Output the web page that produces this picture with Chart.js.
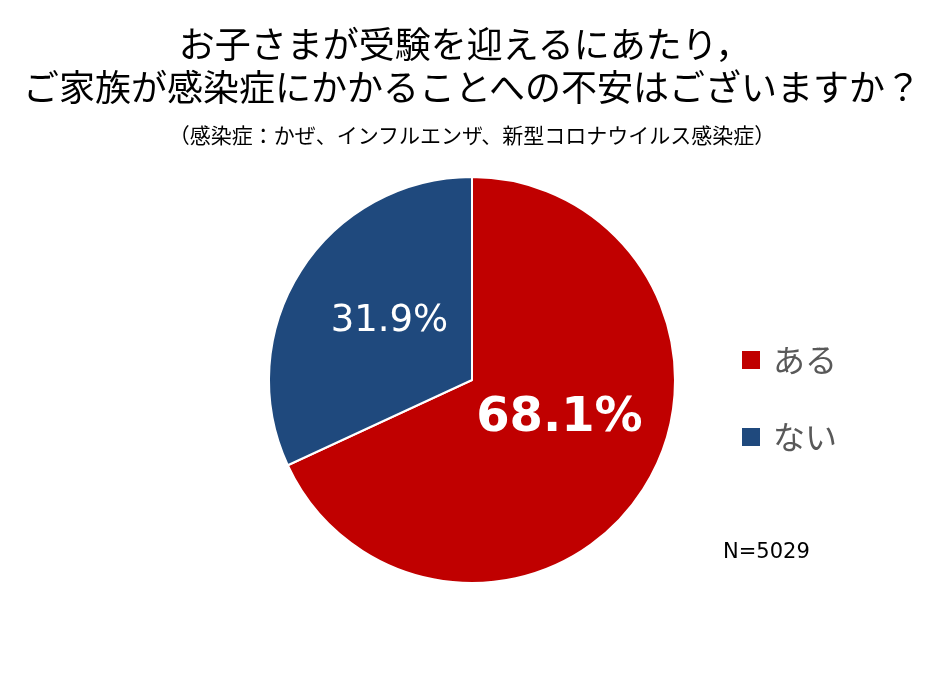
<!DOCTYPE html>
<html lang="ja">
<head>
<meta charset="utf-8">
<script src="https://cdn.jsdelivr.net/npm/chart.js@4/dist/chart.umd.min.js"></script>
<style>
  body { margin: 0; background: #fff; }
  .wrap { position: relative; width: 944px; height: 677px; font-family: "Noto Sans CJK JP", sans-serif; }
  .wrap canvas { position: absolute; left: 0; top: 0; }
  .title { position: absolute; left: 0; width: 944px; text-align: center; color: #000; white-space: nowrap; }
  .legend { position: absolute; left: 742px; font-size: 32px; color: #595959; line-height: 40px; }
  .legend span.box { display: inline-block; width: 18px; height: 18px; margin-right: 13px; vertical-align: middle; position: relative; top: -3px; }
  .nnote { position: absolute; left: 723px; top: 539px; font: 21px "DejaVu Sans", sans-serif; color: #000; }
</style>
</head>
<body>
<div class="wrap">
  <canvas id="pie" width="944" height="677"></canvas>
  <div class="title" style="top:20px;font-size:36px;line-height:44px;padding-right:14px;box-sizing:border-box;">お子さまが受験を迎えるにあたり，</div>
  <div class="title" style="top:63px;font-size:36px;line-height:44px;">ご家族が感染症にかかることへの不安はございますか？</div>
  <div class="title" style="top:120px;font-size:21px;line-height:28px;">（感染症：かぜ、インフルエンザ、新型コロナウイルス感染症）</div>
  <div id="legend"></div>
  <div class="nnote">N=5029</div>
</div>
<script>
const labels = ['ある', 'ない'];
const shares = [68.1, 31.9];
const colors = ['#C00000', '#1F497D'];

// legend (html)
const legendTops = [338, 415];
document.getElementById('legend').innerHTML = labels.map((l, i) =>
  `<div class="legend" style="top:${legendTops[i]}px"><span class="box" style="background:${colors[i]}"></span>${l}</div>`
).join('');

// percent labels inside slices
const sliceLabels = {
  id: 'sliceLabels',
  afterDatasetsDraw(chart) {
    const ctx = chart.ctx;
    const arcs = chart.getDatasetMeta(0).data;
    const styles = [
      { font: 'bold 48px "DejaVu Sans"', r: 0.47, shift: -9 },
      { font: '37px "DejaVu Sans"', r: 0.5, shift: 3 }
    ];
    ctx.save();
    ctx.fillStyle = '#fff';
    ctx.textAlign = 'center';
    ctx.textBaseline = 'middle';
    arcs.forEach((arc, i) => {
      const s = styles[i];
      const mid = (arc.startAngle + arc.endAngle) / 2 + s.shift * Math.PI / 180;
      const rr = arc.outerRadius * s.r;
      ctx.font = s.font;
      ctx.fillText(shares[i].toFixed(1) + '%', arc.x + Math.cos(mid) * rr, arc.y + Math.sin(mid) * rr);
    });
    ctx.restore();
  }
};

new Chart(document.getElementById('pie'), {
  type: 'pie',
  data: {
    labels: labels,
    datasets: [{
      data: shares,
      backgroundColor: colors,
      borderColor: '#fff',
      borderWidth: 2
    }]
  },
  options: {
    responsive: false,
    animation: false,
    layout: { padding: { top: 176, bottom: 93, left: 200, right: 200 } },
    plugins: {
      legend: { display: false },
      title: { display: false },
      tooltip: { enabled: false }
    }
  },
  plugins: [sliceLabels]
});
</script>
</body>
</html>
